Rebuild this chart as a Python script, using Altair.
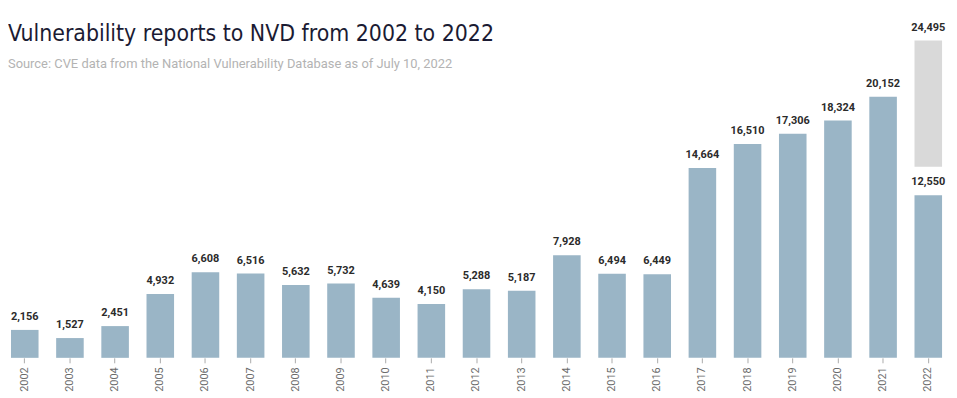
import altair as alt
import pandas as pd

years = [str(y) for y in range(2002, 2023)]
reports = [2156, 1527, 2451, 4932, 6608, 6516, 5632, 5732, 4639, 4150, 5288,
           5187, 7928, 6494, 6449, 14664, 16510, 17306, 18324, 20152, 12550]
proj_year = ["2022"]
proj_base = [14750]
proj_total = [24495]

title_text = "Vulnerability reports to NVD from 2002 to 2022"
subtitle_text = "Source: CVE data from the National Vulnerability Database as of July 10, 2022"

df = pd.DataFrame({"year": years, "value": reports})
dp = pd.DataFrame({"year": proj_year, "base": proj_base, "total": proj_total})
dt = pd.DataFrame({"t": [title_text], "s": [subtitle_text]})

xenc = alt.X("year:O", title=None,
             scale=alt.Scale(paddingInner=0.39, paddingOuter=0),
             axis=alt.Axis(labelAngle=270, labelAlign="right", labelBaseline="middle",
                           domain=False, ticks=True, tickColor="#aaaaaa", tickSize=5,
                           labelColor="#6b6b6b", labelFontSize=11, labelFont="Roboto",
                           labelPadding=4))
yscale = alt.Scale(domain=[0, 26900], nice=False)

bars = alt.Chart(df).mark_bar(color="#9ab5c6").encode(
    x=xenc, y=alt.Y("value:Q", scale=yscale, axis=None))
labels = alt.Chart(df).mark_text(dy=-8, baseline="bottom", fontWeight="bold",
                                 fontSize=11, font="Roboto", color="#2b2b2b").encode(
    x="year:O", y="value:Q",
    text=alt.Text("value:Q", format=","))
proj = alt.Chart(dp).mark_bar(color="#d9d9d9").encode(
    x="year:O", y="base:Q", y2="total:Q")
proj_lab = alt.Chart(dp).mark_text(dy=-8, baseline="bottom", fontWeight="bold",
                                   fontSize=11, font="Roboto", color="#2b2b2b").encode(
    x="year:O", y="total:Q",
    text=alt.Text("total:Q", format=","))
title = alt.Chart(dt).mark_text(align="left", baseline="alphabetic", fontSize=23,
                                font="DejaVu Sans Condensed, Liberation Sans Narrow, Roboto, sans-serif",
                                color="#1b1b33").encode(
    x=alt.value(-3), y=alt.value(32), text="t:N")
subtitle = alt.Chart(dt).mark_text(align="left", baseline="alphabetic", fontSize=13,
                                   font="Roboto", color="#b3b3b3").encode(
    x=alt.value(-3), y=alt.value(59), text="s:N")

chart = alt.layer(bars, proj, labels, proj_lab, title, subtitle).properties(
    width=938, height=351,
    autosize=alt.AutoSizeParams(type="none"),
    padding={"left": 3, "top": 0, "right": 7, "bottom": 36},
).configure_view(stroke=None)

chart.save("out.html", embed_options={"renderer": "svg", "actions": False})
